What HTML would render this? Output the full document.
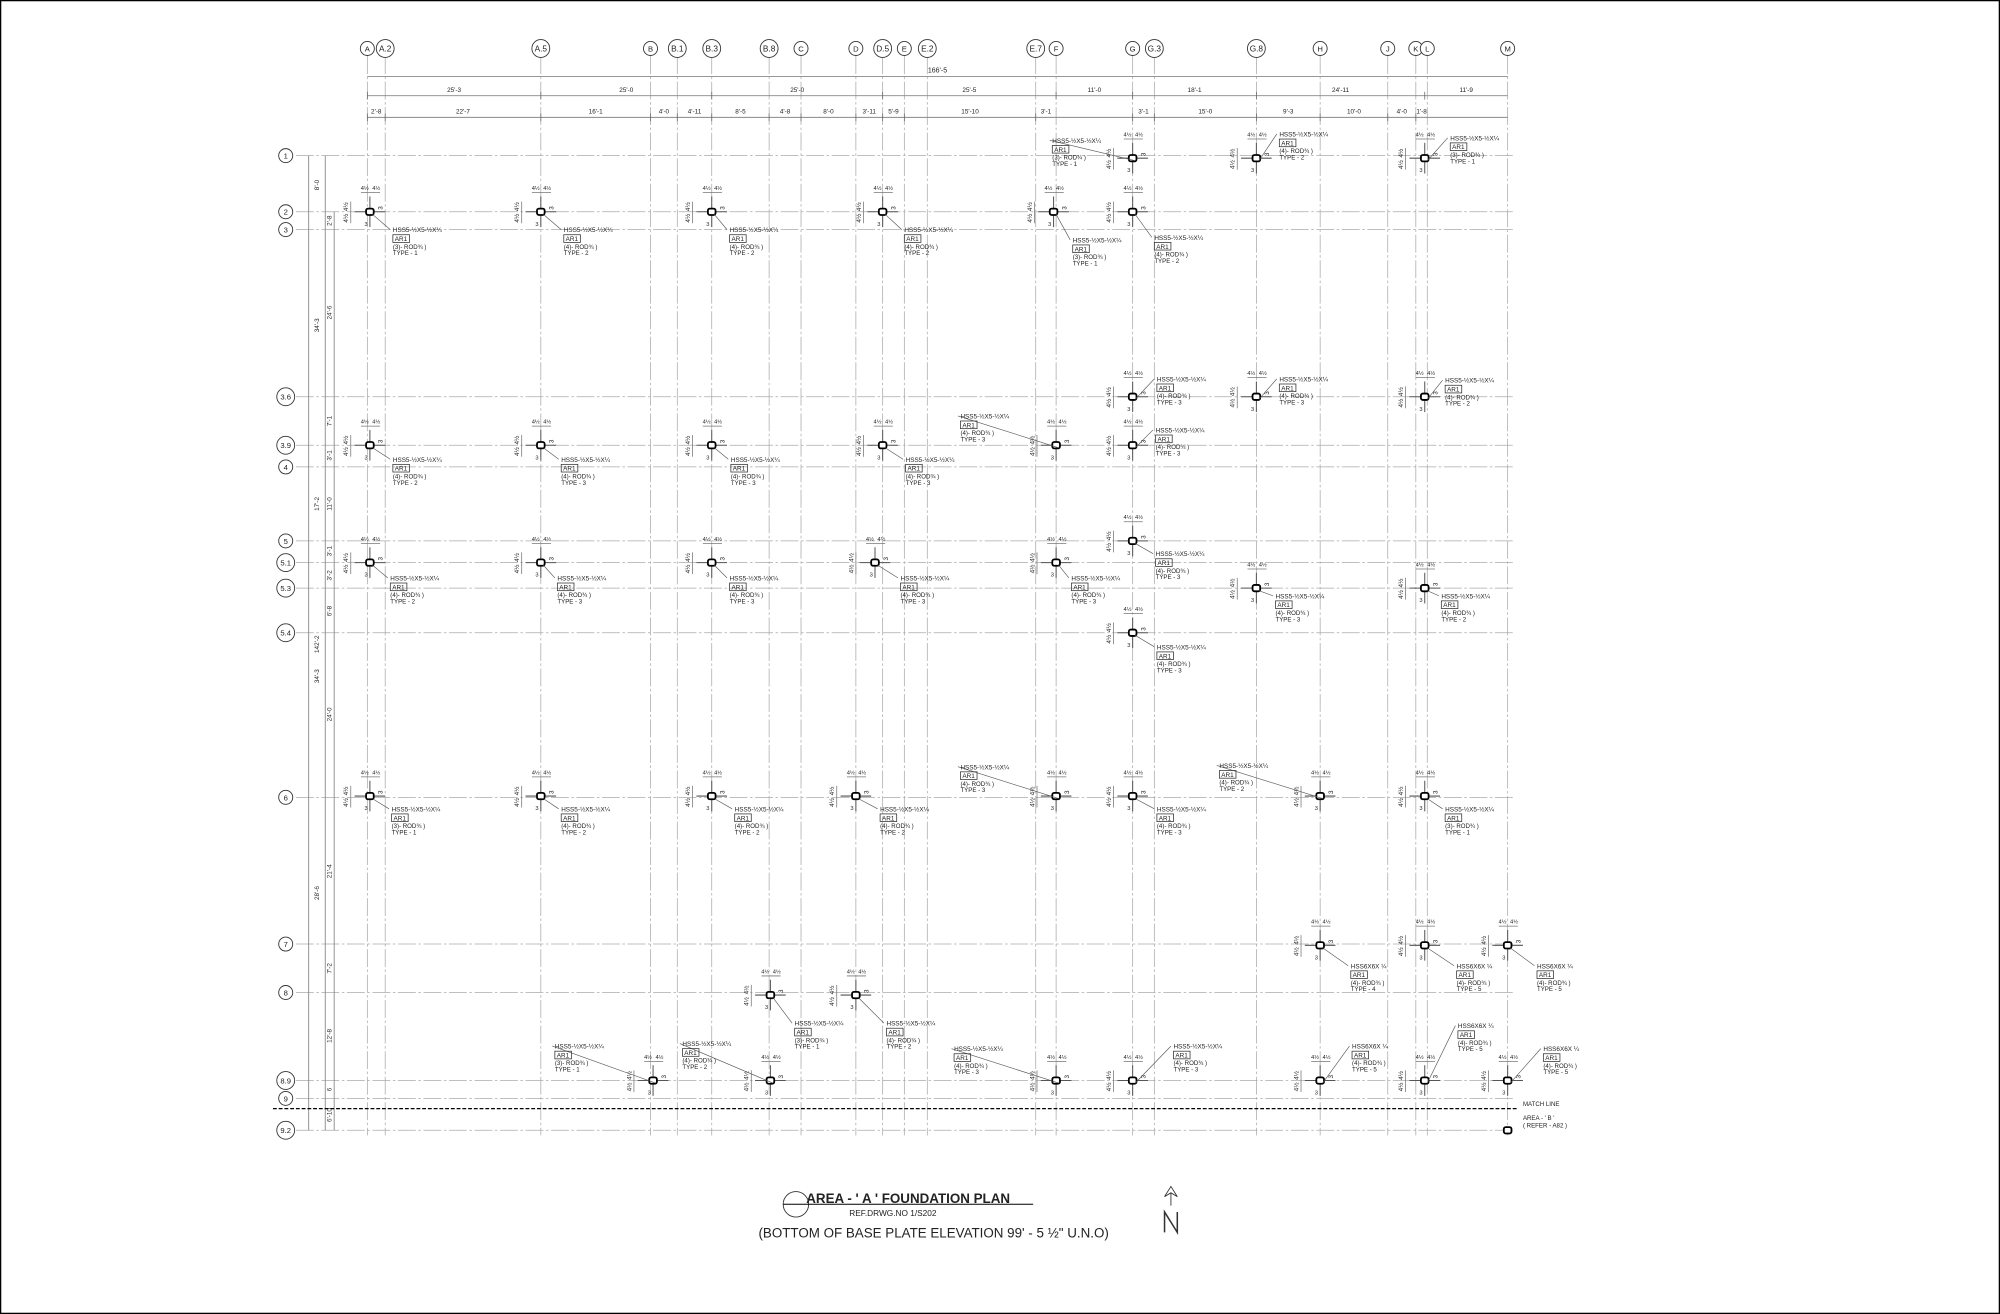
<!DOCTYPE html>
<html><head><meta charset="utf-8"><style>
html,body{margin:0;padding:0;background:#fff}
svg{display:block}
text{font-family:"Liberation Sans",sans-serif;fill:#222}
</style></head><body>
<svg id="s" width="2000" height="1314" viewBox="0 0 1568 1030" preserveAspectRatio="none" xmlns="http://www.w3.org/2000/svg">
<rect x="0.5" y="0.5" width="1567" height="1029" fill="#fff" stroke="#000" stroke-width="1"/>
</svg>
<script>
var s=document.getElementById('s'),h='';
function L(x1,y1,x2,y2,c,w,d){h+='<line x1="'+x1+'" y1="'+y1+'" x2="'+x2+'" y2="'+y2+'" stroke="'+(c||'#999')+'" stroke-width="'+(w||0.6)+'"'+(d?' stroke-dasharray="'+d+'"':'')+'/>';}
function T(x,y,t,sz,a,extra){h+='<text x="'+x+'" y="'+y+'" font-size="'+(sz||5)+'"'+(a?' text-anchor="'+a+'"':'')+(extra||'')+'>'+t+'</text>';}
function C(x,y,r){h+='<circle cx="'+x+'" cy="'+y+'" r="'+r+'" fill="#fff" stroke="#333" stroke-width="0.7"/>';}
var cols=[['A',288],['A.2',302],['A.5',424],['B',510],['B.1',531],['B.3',558],['B.8',603],['C',628],['D',671],['D.5',692],['E',709],['E.2',727],['E.7',812],['F',828],['G',888],['G.3',905],['G.8',985],['H',1035],['J',1088],['K',1110],['L',1119],['M',1182]];
var rows=[['1',122],['2',166],['3',180],['3.6',311],['3.9',349],['4',366],['5',424],['5.1',441],['5.3',461],['5.4',496],['6',625],['7',740],['8',778],['8.9',847],['9',861],['9.2',886]];
cols.forEach(function(c){L(c[1],44,c[1],890,'#aaa',0.6,'14 2 2 2');var r=c[0].length>1?7:5.5;C(c[1],38,r);T(c[1],40.5,c[0],c[0].length>1?6.5:6,'middle');});
rows.forEach(function(r){L(232,r[1],1186,r[1],'#aaa',0.6,'14 2 2 2');var rr=r[0].length>1?7:5.5;C(224,r[1],rr);T(224,r[1]+2.3,r[0],6,'middle');});
// top dims
L(288,60,1182,60,'#888',0.7);T(735,57,"166'-5",5.5,'middle');
var d1=[[288,424,"25'-3"],[424,558,"25'-0"],[558,692,"25'-0"],[692,828,"25'-5"],[828,888,"11'-0"],[888,985,"18'-1"],[985,1117,"24'-11"],[1117,1182,"11'-9"]];
L(288,75,1182,75,'#888',0.7);d1.forEach(function(d){T((d[0]+d[1])/2,72,d[2],5,'middle');L(d[0],72,d[0],78,'#666',0.6);});
var d2=[[288,302,"2'-8"],[302,424,"22'-7"],[424,510,"16'-1"],[510,531,"4'-0"],[531,558,"4'-11"],[558,603,"8'-5"],[603,628,"4'-8"],[628,671,"8'-0"],[671,692,"3'-11"],[692,709,"5'-9"],[709,812,"15'-10"],[812,828,"3'-1"],[888,905,"3'-1"],[905,985,"15'-0"],[985,1035,"9'-3"],[1035,1088,"10'-0"],[1088,1110,"4'-0"],[1110,1119,"1'-8"]];
L(288,92,1182,92,'#888',0.7);d2.forEach(function(d){T((d[0]+d[1])/2,89,d[2],5,'middle');L(d[0],89,d[0],95,'#666',0.6);});
// left dims
L(242,122,242,886,'#888',0.7);L(255,122,255,886,'#888',0.7);L(262,166,262,886,'#888',0.7);
function VT(x,y,t){T(x,y,t,5,'middle',' transform="rotate(-90 '+x+' '+y+')"');}
VT(250,145,"8'-0");VT(250,255,"34'-3");VT(250,395,"17'-2");VT(250,530,"34'-3");VT(250,700,"28'-6");VT(250,505,"142'-2");
VT(260,173,"2'-8");VT(260,245,"24'-6");VT(260,330,"7'-1");VT(260,357,"3'-1");VT(260,395,"11'-0");VT(260,432,"3'-1");VT(260,451,"3'-2");VT(260,479,"6'-8");VT(260,560,"24'-0");VT(260,683,"21'-4");VT(260,759,"7'-2");VT(260,812,"12'-8");VT(260,854,"6");VT(260,874,"6'-10");
// match line
L(214,869,1190,869,'#000',1,'3 1.5');T(1194,867,'MATCH LINE',4.8);T(1194,878,"AREA - ' B '",4.8);T(1194,884,'( REFER - A82 )',4.8);
// nodes
function N(x,y,lx,ly,big,rod,type){
 L(x-12,y,x+12,y,'#555',0.8);L(x,y-12,x,y+12,'#555',0.8);
 L(x-7,y-15,x+8,y-15,'#777',0.6);T(x-4,y-17,'4½',4.5,'middle');T(x+5,y-17,'4½',4.5,'middle');
 L(x-15,y-8,x-15,y+9,'#777',0.6);VT(x-17,y-4,'4½');VT(x-17,y+5,'4½');
 T(x-3,y+11,'3',4.5,'middle');VT(x+10,y-3,'3');
 h+='<rect x="'+(x-3)+'" y="'+(y-2.5)+'" width="6" height="5" rx="1.5" fill="#fff" stroke="#000" stroke-width="1.4"/>';
 L(x+2,y+2,lx-2,ly-2,'#555',0.5);
 T(lx,ly,big?'HSS6X6X ¼':'HSS5-½X5-½X¼',5);
 h+='<rect x="'+lx+'" y="'+(ly+2)+'" width="13" height="6" fill="none" stroke="#333" stroke-width="0.6"/>';
 T(lx+1.5,ly+7,'AR1',5);T(lx,ly+13,'('+rod+')- ROD¾ )',4.8);T(lx,ly+18,'TYPE - '+type,4.8);
}
var n=[[888,124,825,112,0,3,1],[985,124,1003,107,0,4,2],[1117,124,1137,110,0,3,1],
[290,166,308,182,0,3,1],[424,166,442,182,0,4,2],[558,166,572,182,0,4,2],[692,166,709,182,0,4,2],[826,166,841,190,0,3,1],[888,166,905,188,0,4,2],
[888,311,907,299,0,4,3],[985,311,1003,299,0,4,3],[1117,311,1133,300,0,4,2],
[290,349,308,362,0,4,2],[424,349,440,362,0,4,3],[558,349,573,362,0,4,3],[692,349,710,362,0,4,3],[828,349,753,328,0,4,3],[888,349,906,339,0,4,3],
[888,424,906,436,0,4,3],
[290,441,306,455,0,4,2],[424,441,437,455,0,4,3],[558,441,572,455,0,4,3],[686,441,706,455,0,4,3],[828,441,840,455,0,4,3],
[985,461,1000,469,0,4,3],[1117,461,1130,469,0,4,2],[888,496,907,509,0,4,3],
[290,624,307,636,0,3,1],[424,624,440,636,0,4,2],[558,624,576,636,0,4,2],[671,624,690,636,0,4,2],[828,624,753,603,0,4,3],[888,624,907,636,0,4,3],[1035,624,956,602,0,4,2],[1117,624,1133,636,0,3,1],
[1035,741,1059,759,1,4,4],[1117,741,1142,759,1,4,5],[1182,741,1205,759,1,4,5],
[604,780,623,804,0,3,1],[671,780,695,804,0,4,2],
[512,847,435,822,0,3,1],[604,847,535,820,0,4,2],[828,847,748,824,0,4,3],[888,847,920,822,0,4,3],[1035,847,1060,822,1,4,5],[1117,847,1143,806,1,4,5],[1182,847,1210,824,1,4,5]];
n.forEach(function(a){N(a[0],a[1],a[2],a[3],a[4],a[5],a[6]);});
h+='<rect x="1179" y="883.5" width="6" height="5" rx="1.5" fill="#fff" stroke="#000" stroke-width="1.4"/>';
// title
C(624,944,10);L(614,944,810,944,'#000',0.8);
T(712,943,"AREA - ' A ' FOUNDATION PLAN",10.5,'middle',' font-weight="bold"');
T(700,953,'REF.DRWG.NO 1/S202',6.5,'middle');
T(732,970,'(BOTTOM OF BASE PLATE ELEVATION 99\' - 5 ½" U.N.O)',10.5,'middle');
// north arrow
h+='<path d="M918 930 L913 938 L918 935 L923 938 Z M918 935 L918 945" fill="none" stroke="#333" stroke-width="0.7"/>';
h+='<path d="M913 966 L913 950 L923 966 L923 950" fill="none" stroke="#333" stroke-width="1.2"/>';
s.innerHTML+=h;
</script>
</body></html>
